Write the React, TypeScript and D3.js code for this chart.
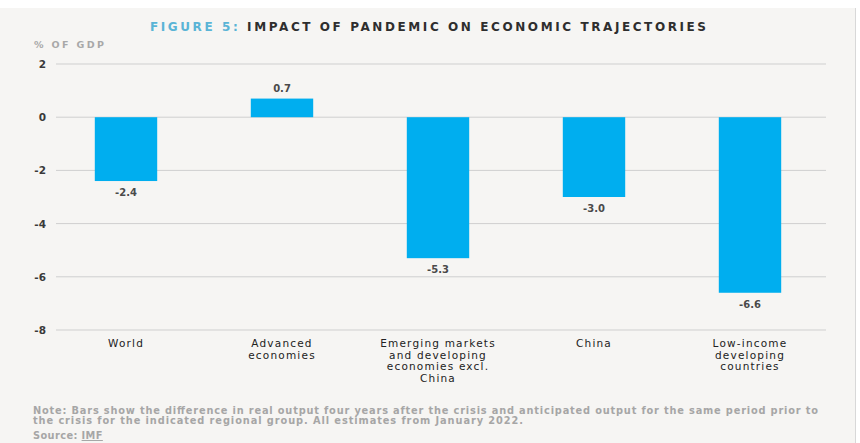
import React from "react";
import * as d3 from "d3";

const categories = [
  ["World"],
  ["Advanced", "economies"],
  ["Emerging markets", "and developing", "economies excl.", "China"],
  ["China"],
  ["Low-income", "developing", "countries"],
];
const values = [-2.4, 0.7, -5.3, -3.0, -6.6];
const yTicks = [2, 0, -2, -4, -6, -8];

const W = 860;
const H = 443;

export default function App() {
  const keys = categories.map((c) => c.join(" "));
  const x = d3.scaleBand<string>().domain(keys).range([48, 828]).paddingInner(0.6).paddingOuter(0.3);
  const y = d3.scaleLinear().domain([-8, 2]).range([330, 64]);
  const wide = "'DejaVu Sans', Verdana, sans-serif";
  return (
    <svg width={W} height={H} style={{ position: "absolute", left: 0, top: 0 }} fontFamily={wide}>
      <rect x={0} y={0} width={W} height={H} fill="#ffffff" />
      <rect x={0} y={8} width={855} height={H - 8} fill="#f6f5f3" />
      <line x1={855.5} x2={855.5} y1={8} y2={H} stroke="#d8d8d8" />
      <text x={150} y={31} fontSize={12} fontWeight={700} textLength={556} lengthAdjust="spacing">
        <tspan fill="#5ab4d6">FIGURE 5: </tspan>
        <tspan fill="#2e2e2e">IMPACT OF PANDEMIC ON ECONOMIC TRAJECTORIES</tspan>
      </text>
      <text x={34} y={48} fontSize={9.5} fontWeight={700} fill="#a8a8a8" textLength={70} lengthAdjust="spacing">% OF GDP</text>
      {yTicks.map((t) => (
        <g key={t}>
          <line x1={56} x2={826} y1={y(t)} y2={y(t)} stroke="#cfcfcf" strokeWidth={1} />
          <text x={46} y={y(t) + 4} textAnchor="end" fontSize={10.5} fontWeight={700} fill="#3a3a3a">{t}</text>
        </g>
      ))}
      {values.map((v, i) => {
        const k = keys[i];
        const x0 = x(k)!;
        const bw = x.bandwidth();
        const top = y(Math.max(0, v));
        const bot = y(Math.min(0, v));
        const cx = x0 + bw / 2;
        return (
          <g key={k}>
            <rect x={x0} y={top} width={bw} height={bot - top} fill="#00aeef" />
            <text x={cx} y={v < 0 ? bot + 15 : top - 7} textAnchor="middle" fontSize={10} fontWeight={700} fill="#4a4a4a">
              {v.toFixed(1)}
            </text>
            <text textAnchor="middle" fontSize={10.5} letterSpacing={1.2} fill="#222">
              {categories[i].map((line, j) => (
                <tspan key={j} x={cx} y={347 + j * 11.5}>{line}</tspan>
              ))}
            </text>
          </g>
        );
      })}
      <text fontSize={9.8} fontWeight={700} fill="#a6a6a6">
        <tspan x={33} y={413.5} textLength={785} lengthAdjust="spacing">Note: Bars show the difference in real output four years after the crisis and anticipated output for the same period prior to</tspan>
      </text>
      <text fontSize={9.8} fontWeight={700} fill="#a6a6a6">
        <tspan x={33} y={424} textLength={490} lengthAdjust="spacing">the crisis for the indicated regional group. All estimates from January 2022.</tspan>
      </text>
      <text x={33} y={439} fontSize={9.8} fontWeight={700} fill="#a6a6a6" letterSpacing={0.4}>
        Source: <tspan textDecoration="underline">IMF</tspan>
      </text>
    </svg>
  );
}
